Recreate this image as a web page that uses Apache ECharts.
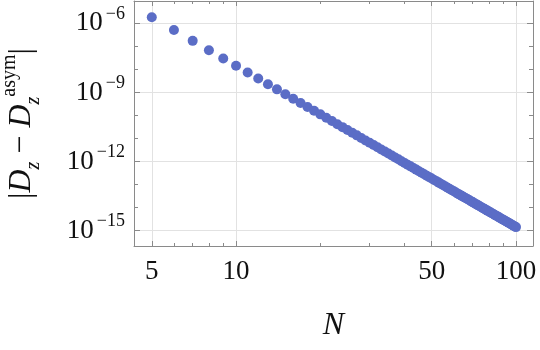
<!DOCTYPE html>
<html>
<head>
<meta charset="utf-8">
<script src="https://cdn.jsdelivr.net/npm/echarts@6/dist/echarts.min.js"></script>
<style>
html,body{margin:0;padding:0;background:#fff;}
#c{width:540px;height:350px;}
</style>
</head>
<body>
<div id="c"></div>
<script>
// N values (x)
const N = [5,6,7,8,9,10,11,12,13,14,15,16,17,18,19,20,21,22,23,24,25,26,27,28,29,30,
  31,32,33,34,35,36,37,38,39,40,41,42,43,44,45,46,47,48,49,50,51,52,53,54,55,56,57,58,59,60,
  61,62,63,64,65,66,67,68,69,70,71,72,73,74,75,76,77,78,79,80,81,82,83,84,85,86,87,88,89,90,
  91,92,93,94,95,96,97,98,99,100];
// |D_z - D_z^asym| values (y)
const D = [1.83e-6,5.1e-7,1.73e-7,6.8e-8,2.99e-8,1.43e-8,7.33e-9,3.99e-9,2.28e-9,1.36e-9,
  8.37e-10,5.32e-10,3.48e-10,2.33e-10,1.60e-10,1.12e-10,7.94e-11,5.73e-11,4.20e-11,3.12e-11,
  2.34e-11,1.78e-11,1.37e-11,1.06e-11,8.28e-12,6.54e-12,5.19e-12,4.16e-12,3.35e-12,2.72e-12,
  2.22e-12,1.82e-12,1.50e-12,1.25e-12,1.04e-12,8.72e-13,7.34e-13,6.20e-13,5.26e-13,4.48e-13,
  3.82e-13,3.28e-13,2.82e-13,2.43e-13,2.11e-13,1.83e-13,1.59e-13,1.39e-13,1.22e-13,1.07e-13,
  9.39e-14,8.27e-14,7.31e-14,6.47e-14,5.74e-14,5.11e-14,4.55e-14,4.06e-14,3.63e-14,3.25e-14,
  2.91e-14,2.62e-14,2.36e-14,2.13e-14,1.92e-14,1.74e-14,1.57e-14,1.42e-14,1.29e-14,1.18e-14,
  1.07e-14,9.76e-15,8.91e-15,8.14e-15,7.44e-15,6.81e-15,6.25e-15,5.73e-15,5.27e-15,4.84e-15,
  4.46e-15,4.11e-15,3.79e-15,3.50e-15,3.23e-15,2.99e-15,2.77e-15,2.56e-15,2.38e-15,2.20e-15,
  2.05e-15,1.90e-15,1.77e-15,1.65e-15,1.53e-15,1.43e-15];
// tick labels / tick positions
const xMajorTicks = [5,10,50,100];
const xMinorTicks = [6,7,8,9,20,30,40,60,70,80,90];
const yMajorExp = [-15,-12,-9,-6];
const yMinorExp = [-14,-13,-11,-10,-8,-7];
const xRange = [4.32, 115];
const yRangeExp = [-15.664, -5.032];

const L = Math.log10;
const serif = '"Liberation Serif", "DejaVu Serif", serif';
const frame = '#8a8a8a';
const grid = '#e2e2e2';

const xMin = L(xRange[0]), xMax = L(xRange[1]);
function xAxisDef(pos, ticks, len, major){
  return {
    type:'value', position:pos, min:xMin, max:xMax, gridIndex:0,
    axisLine:{show:major, onZero:false, lineStyle:{color:frame, width:1}},
    axisTick:{show:true, inside:true, length:len, customValues:ticks.map(L), lineStyle:{color:frame}},
    axisLabel:{show:false},
    splitLine:{show:false}
  };
}
function yAxisDef(pos, ticks, len, major){
  return {
    type:'value', position:pos, min:yRangeExp[0], max:yRangeExp[1], gridIndex:0,
    axisLine:{show:major, onZero:false, lineStyle:{color:frame, width:1}},
    axisTick:{show:true, inside:true, length:len, customValues:ticks, lineStyle:{color:frame}},
    axisLabel:{show:false},
    splitLine:{show:false}
  };
}

const xMain = xAxisDef('bottom', xMajorTicks, 5, true);
xMain.axisLabel = {show:true, customValues:xMajorTicks.map(L), margin:12,
  formatter:v=>String(Math.round(Math.pow(10,v))),
  fontFamily:serif, fontSize:27, color:'#111'};
xMain.splitLine = {show:true, lineStyle:{color:grid, width:1}};
xMain.name = 'N';
xMain.nameLocation = 'middle';
xMain.nameGap = 64;
xMain.nameTextStyle = {fontFamily:serif, fontStyle:'italic', fontSize:32, color:'#111'};

const yMain = yAxisDef('left', yMajorExp, 6, true);
yMain.axisLabel = {show:true, customValues:yMajorExp, margin:9,
  formatter:v=>'{b|10}{s|\u2212' + Math.abs(Math.round(v)) + '}',
  rich:{
    b:{fontFamily:serif, fontSize:27, lineHeight:36, verticalAlign:'middle', color:'#111', padding:[0,3,0,0]},
    s:{fontFamily:serif, fontSize:18, lineHeight:18, verticalAlign:'top', color:'#111'}
  }};
yMain.splitLine = {show:true, lineStyle:{color:grid, width:1}};
yMain.name = '{m||}{i|D}{sub|z}{m| \u2212 }{i|D}{sub|z}{sup|asym}{m||}';
yMain.nameLocation = 'middle';
yMain.nameGap = 90;
yMain.nameRotate = 90;
yMain.nameTextStyle = {
  rich:{
    m:{fontFamily:serif, fontSize:32, lineHeight:44, verticalAlign:'middle', color:'#111'},
    i:{fontFamily:serif, fontStyle:'italic', fontSize:32, lineHeight:44, verticalAlign:'middle', color:'#111'},
    sub:{fontFamily:serif, fontStyle:'italic', fontSize:20, lineHeight:18, verticalAlign:'bottom', color:'#111'},
    sup:{fontFamily:serif, fontSize:20, lineHeight:24, verticalAlign:'top', color:'#111'}
  }
};

const option = {
  animation:false,
  backgroundColor:'#fff',
  grid:{left:134, right:7, top:1, bottom:104, containLabel:false, outerBoundsMode:'none'},
  xAxis:[
    xMain,
    xAxisDef('bottom', xMinorTicks, 3, false),
    xAxisDef('top', xMajorTicks, 5, true),
    xAxisDef('top', xMinorTicks, 3, false)
  ],
  yAxis:[
    yMain,
    yAxisDef('left', yMinorExp, 4, false),
    yAxisDef('right', yMajorExp, 6, true),
    yAxisDef('right', yMinorExp, 4, false)
  ],
  series:[{
    type:'scatter',
    xAxisIndex:0, yAxisIndex:0,
    symbol:'circle',
    symbolSize:10,
    itemStyle:{color:'#5b6dc6', opacity:1},
    data:N.map((n,i)=>[L(n), L(D[i])])
  }]
};
const chart = echarts.init(document.getElementById('c'), null, {renderer:'canvas'});
chart.setOption(option);
</script>
</body>
</html>
